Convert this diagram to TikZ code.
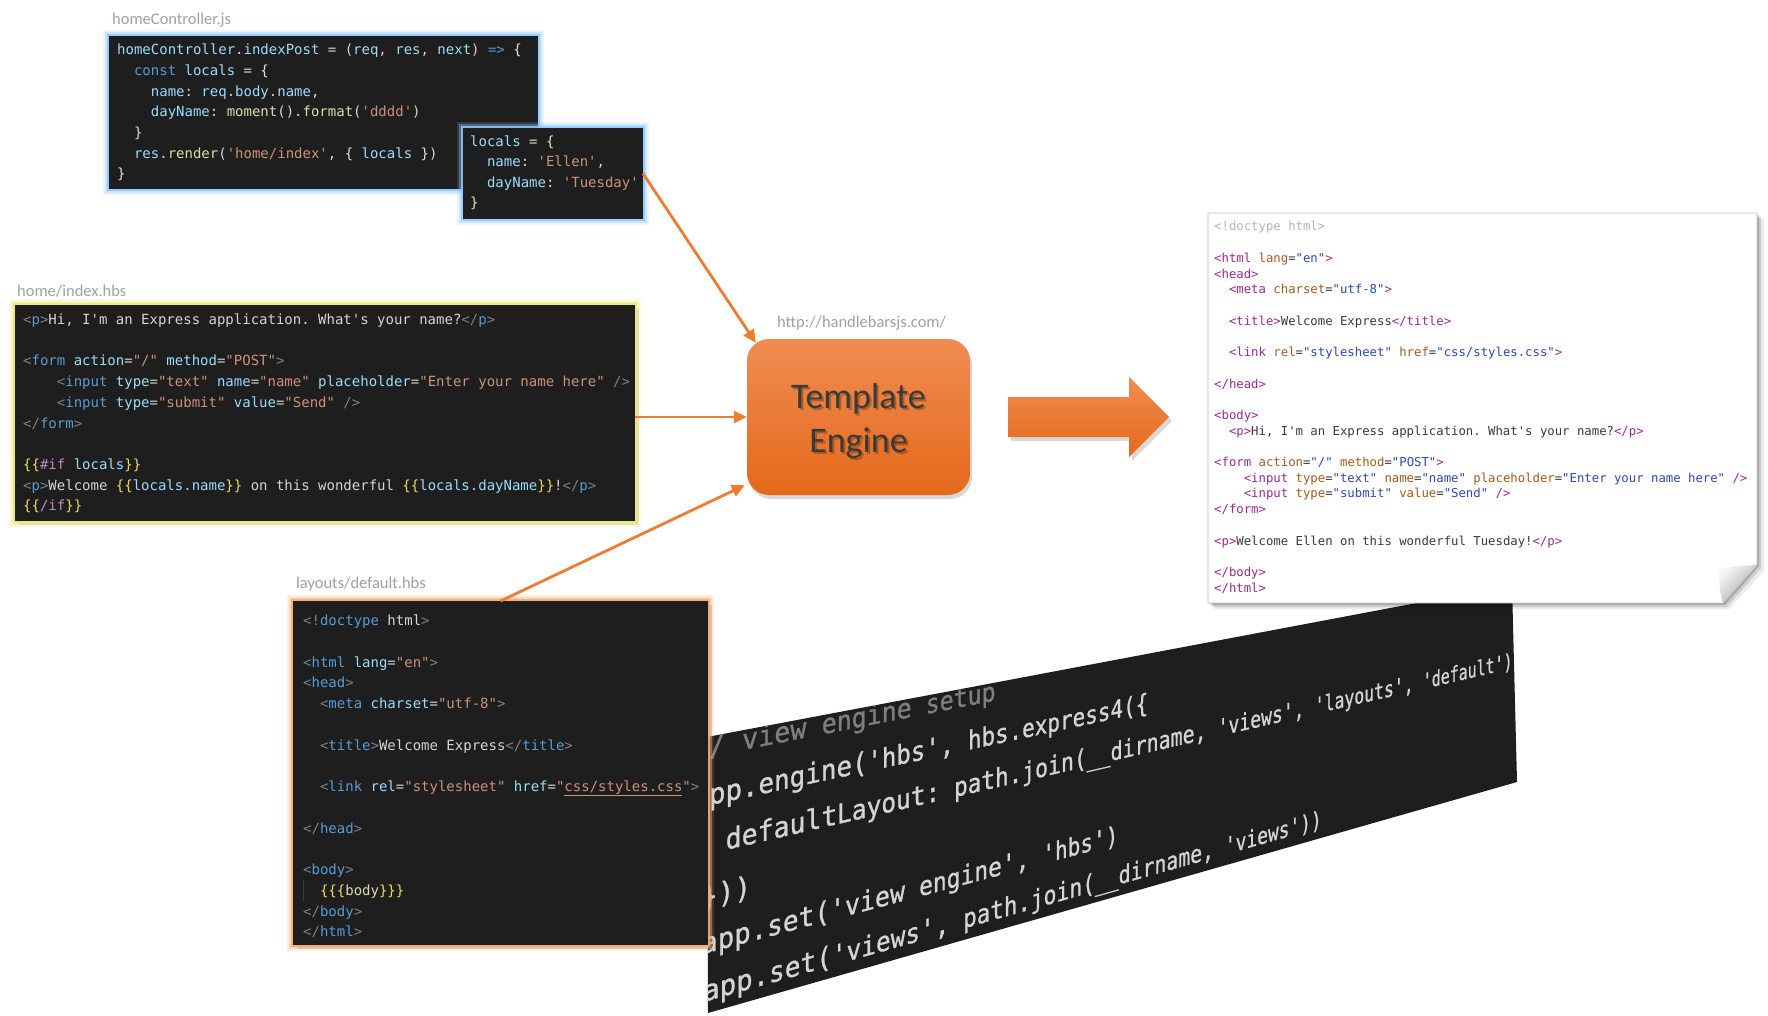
\documentclass[tikz,border=0pt]{standalone}
\usepackage{fontspec}
\setmonofont{DejaVu Sans Mono}
\newfontfamily\calfont{Carlito}
\newfontfamily\tiltfont{DejaVu Sans Mono}[FakeBold=1]
\usetikzlibrary{arrows.meta,shadows}
\definecolor{vsbg}{HTML}{1E1E1E}
\definecolor{vspun}{HTML}{808080}
\definecolor{vstag}{HTML}{569CD6}
\definecolor{vsatt}{HTML}{9CDCFE}
\definecolor{vsstr}{HTML}{CE9178}
\definecolor{vstxt}{HTML}{D4D4D4}
\definecolor{vsbrk}{HTML}{F2D95C}
\definecolor{vsbrw}{HTML}{E6E0C8}
\definecolor{vskey}{HTML}{569CD6}
\definecolor{vsfun}{HTML}{DCDCAA}
\definecolor{vshbs}{HTML}{C586C0}
\definecolor{otag}{HTML}{9A2A8E}
\definecolor{oatt}{HTML}{A8581C}
\definecolor{oval}{HTML}{2F48B5}
\definecolor{otxt}{HTML}{3A3A3A}
\definecolor{odoc}{HTML}{B4B4B4}
\definecolor{orangeA}{HTML}{ED7D31}
\definecolor{teTop}{HTML}{F08C52}
\definecolor{teBot}{HTML}{E4691B}
\definecolor{glowBlue}{HTML}{8EC8FF}
\definecolor{glowYel}{HTML}{EFE67A}
\definecolor{glowOra}{HTML}{F5A96E}
\definecolor{lblgray}{HTML}{A0A0A0}
\definecolor{tiltTxt}{HTML}{D4D4D4}
\definecolor{tiltCom}{HTML}{7E7E7E}
\definecolor{teText}{HTML}{3A3A3A}
\newcommand\cPun[1]{\textcolor{vspun}{#1}}
\newcommand\cTag[1]{\textcolor{vstag}{#1}}
\newcommand\cAtt[1]{\textcolor{vsatt}{#1}}
\newcommand\cStr[1]{\textcolor{vsstr}{#1}}
\newcommand\cBrk[1]{\textcolor{vsbrk}{#1}}
\newcommand\cBrw[1]{\textcolor{vsbrw}{#1}}
\newcommand\cKey[1]{\textcolor{vskey}{#1}}
\newcommand\cFun[1]{\textcolor{vsfun}{#1}}
\newcommand\cHbs[1]{\textcolor{vshbs}{#1}}
\newcommand\cVar[1]{\textcolor{vsatt}{#1}}
\newcommand\oTag[1]{\textcolor{otag}{#1}}
\newcommand\oAtt[1]{\textcolor{oatt}{#1}}
\newcommand\oVal[1]{\textcolor{oval}{#1}}
\newcommand\oDoc[1]{\textcolor{odoc}{#1}}
\newcounter{twc}
\newcommand\tw[6]{%
 \pgfmathsetmacro\twU{#2+#3*16.8}%
 \pgfmathsetmacro\twR{\twU/1127}%
 \pgfmathsetmacro\twW{1+0.4*\twR}%
 \pgfmathsetmacro\twX{707+\twU/\twW}%
 \pgfmathsetmacro\twY{(737+#1+81.6*\twR)/\twW}%
 \pgfmathsetmacro\twM{1+0.4*(\twU+#4*8.4)/1127}%
 \pgfmathsetmacro\twA{1/(\twM*\twM)}%
 \pgfmathsetmacro\twB{0.4*(533+#1)/1127/(\twM*\twM)}%
 \pgfmathsetmacro\twD{1.04/\twM}%
 \stepcounter{twc}%
 \begin{scope}[shift={(\twX,\twY)}]
 \node[tiltln,text=#5,cm={\twA,\twB,0,\twD,(0,0)}] (tw\arabic{twc}) at (0,0) {#6};
 \end{scope}}
\begin{document}
\frenchspacing
\begin{tikzpicture}[x=1pt,y=-1pt,
 codeln/.style={anchor=base west,inner sep=0,font=\ttfamily\fontsize{14}{16}\selectfont,text=vstxt},
 outln/.style={anchor=base west,inner sep=0,font=\ttfamily\fontsize{12.3}{14}\selectfont,text=otxt},
 tiltln/.style={anchor=base west,inner sep=0,transform shape,font=\tiltfont\fontsize{28}{30}\selectfont},
 lbl/.style={anchor=west,inner sep=0,font=\calfont\fontsize{16.5}{18}\selectfont,text=lblgray},
 codebox/.style={fill=vsbg,draw=none,inner sep=0,outer sep=0,anchor=north west},
 blueglow/.style={preaction={draw=glowBlue,line width=12pt,draw opacity=.18},
   preaction={draw=glowBlue,line width=8pt,draw opacity=.35},
   preaction={draw=glowBlue,line width=4pt,draw opacity=.85}},
 yelglow/.style={drop shadow={shadow xshift=4pt,shadow yshift=-4pt,opacity=.25},
   preaction={draw=glowYel,line width=12pt,draw opacity=.18},
   preaction={draw=glowYel,line width=8pt,draw opacity=.35},
   preaction={draw=glowYel,line width=4pt,draw opacity=.85}},
 oraglow/.style={drop shadow={shadow xshift=4pt,shadow yshift=-4pt,opacity=.3},
   preaction={draw=glowOra,line width=12pt,draw opacity=.18},
   preaction={draw=glowOra,line width=8pt,draw opacity=.35},
   preaction={draw=glowOra,line width=4pt,draw opacity=.85}},
 conn/.style={draw=orangeA,line width=2.8pt,-{Triangle[length=13pt,width=12pt]}}
]
\useasboundingbox (0,0) rectangle (1768,1016);
\fill[white] (0,0) rectangle (1768,1016);

% ---------- tilted code image ----------
\coordinate (q1) at (707,737);
\coordinate (q2) at (1512,585);
\coordinate (q3) at (1517,782);
\coordinate (q4) at (708,1013);
\fill[vsbg] (q1) -- (q2) -- (q3) -- (q4) -- cycle;
\begin{scope}
\clip (q1) -- (q2) -- (q3) -- (q4) -- cycle;
\tw{20}{-15}{1}{1}{tiltCom}{/}
\tw{20}{-15}{3}{4}{tiltCom}{view}
\tw{20}{-15}{8}{6}{tiltCom}{engine}
\tw{20}{-15}{15}{5}{tiltCom}{setup}
\tw{68.6}{-15}{1}{3}{tiltTxt}{pp.}
\tw{68.6}{-15}{4}{7}{tiltTxt}{engine(}
\tw{68.6}{-15}{11}{6}{tiltTxt}{'hbs',}
\tw{68.6}{-15}{18}{4}{tiltTxt}{hbs.}
\tw{68.6}{-15}{22}{10}{tiltTxt}{express4(\{}
\tw{117.2}{-15}{2}{7}{tiltTxt}{default}
\tw{117.2}{-15}{9}{7}{tiltTxt}{Layout:}
\tw{117.2}{-15}{17}{5}{tiltTxt}{path.}
\tw{117.2}{-15}{22}{5}{tiltTxt}{join(}
\tw{117.2}{-15}{27}{10}{tiltTxt}{\_\_dirname,}
\tw{117.2}{-15}{38}{8}{tiltTxt}{'views',}
\tw{117.2}{-15}{47}{10}{tiltTxt}{'layouts',}
\tw{117.2}{-15}{58}{10}{tiltTxt}{'default')}
\tw{170}{-6}{0}{3}{tiltTxt}{\}))}
\tw{216}{-6}{0}{4}{tiltTxt}{app.}
\tw{216}{-6}{4}{4}{tiltTxt}{set(}
\tw{216}{-6}{8}{5}{tiltTxt}{'view}
\tw{216}{-6}{14}{8}{tiltTxt}{engine',}
\tw{216}{-6}{23}{6}{tiltTxt}{'hbs')}
\tw{264}{-4}{0}{4}{tiltTxt}{app.}
\tw{264}{-4}{4}{4}{tiltTxt}{set(}
\tw{264}{-4}{8}{8}{tiltTxt}{'views',}
\tw{264}{-4}{17}{5}{tiltTxt}{path.}
\tw{264}{-4}{22}{5}{tiltTxt}{join(}
\tw{264}{-4}{27}{10}{tiltTxt}{\_\_dirname,}
\tw{264}{-4}{38}{9}{tiltTxt}{'views'))}
\end{scope}

% ---------- output page ----------
\fill[black,opacity=.08] (1214,219) -- (1764,219) -- (1764,571) -- (1729,609) -- (1214,609) -- cycle;
\fill[black,opacity=.12] (1212,217) -- (1761,217) -- (1761,568) -- (1727,607) -- (1212,607) -- cycle;
\fill[black,opacity=.18] (1210,215) -- (1759,215) -- (1759,566) -- (1725,605) -- (1210,605) -- cycle;
\coordinate (p1) at (1208,213);
\coordinate (p2) at (1757,213);
\coordinate (p3) at (1757,565);
\coordinate (p4) at (1723,603);
\coordinate (p5) at (1208,603);
\filldraw[fill=white,draw=gray!55,line width=0.8pt] (p1) -- (p2) -- (p3) -- (p4) -- (p5) -- cycle;
\shade[top color=gray!8,bottom color=gray!70,shading angle=45] (p3) .. controls (1742,566) and (1728,566) .. (1719,570) .. controls (1719,584) and (1720,594) .. (p4) -- cycle;
\node[outln] (o0) at (1214,231) {\oDoc{<!doctype html>}};
\node[outln] (o2) at (1214,262.4) {\oTag{<html} \oAtt{lang}=\oVal{"en"}\oTag{>}};
\node[outln] (o3) at (1214,278.1) {\oTag{<head>}};
\node[outln] (o4) at (1228.8,293.8) {\oTag{<meta} \oAtt{charset}=\oVal{"utf-8"}\oTag{>}};
\node[outln] (o6) at (1228.8,325.2) {\oTag{<title>}Welcome Express\oTag{</title>}};
\node[outln] (o8) at (1228.8,356.6) {\oTag{<link} \oAtt{rel}=\oVal{"stylesheet"} \oAtt{href}=\oVal{"css/styles.css"}\oTag{>}};
\node[outln] (o10) at (1214,388) {\oTag{</head>}};
\node[outln] (o12) at (1214,419.4) {\oTag{<body>}};
\node[outln] (o13) at (1228.8,435.1) {\oTag{<p>}Hi, I'm an Express application. What's your name?\oTag{</p>}};
\node[outln] (o15) at (1214,466.5) {\oTag{<form} \oAtt{action}=\oVal{"/"} \oAtt{method}=\oVal{"POST"}\oTag{>}};
\node[outln] (o16) at (1243.6,482.2) {\oTag{<input} \oAtt{type}=\oVal{"text"} \oAtt{name}=\oVal{"name"} \oAtt{placeholder}=\oVal{"Enter your name here"} \oTag{/>}};
\node[outln] (o17) at (1243.6,497.9) {\oTag{<input} \oAtt{type}=\oVal{"submit"} \oAtt{value}=\oVal{"Send"} \oTag{/>}};
\node[outln] (o18) at (1214,513.6) {\oTag{</form>}};
\node[outln] (o20) at (1214,545) {\oTag{<p>}Welcome Ellen on this wonderful Tuesday!\oTag{</p>}};
\node[outln] (o22) at (1214,576.4) {\oTag{</body>}};
\node[outln] (o23) at (1214,592.1) {\oTag{</html>}};

% ---------- homeController.js ----------
\node[lbl] (lblhc) at (112,20) {homeController.js};
\node[codebox,blueglow,minimum width=429pt,minimum height=153pt] (hc) at (109,36) {};
\node[codeln] (hc0) at (117,55) {\cVar{homeController}.\cVar{indexPost} = (\cVar{req}, \cVar{res}, \cVar{next}) \cKey{=>} \cBrw{\{}};
\node[codeln] (hc1) at (133.86,75.7) {\cKey{const} \cVar{locals} = \cBrw{\{}};
\node[codeln] (hc2) at (150.72,96.3) {\cVar{name}: \cVar{req}.\cVar{body}.\cVar{name},};
\node[codeln] (hc3) at (150.72,117) {\cVar{dayName}: \cFun{moment}().\cFun{format}(\cStr{'dddd'})};
\node[codeln] (hc4) at (133.86,137.7) {\cBrw{\}}};
\node[codeln] (hc5) at (133.86,158.3) {\cVar{res}.\cFun{render}(\cStr{'home/index'}, \cBrw{\{} \cVar{locals} \cBrw{\}})};
\node[codeln] (hc6) at (117,179) {\cBrw{\}}};

\node[codebox,blueglow,minimum width=180pt,minimum height=91pt] (locals) at (463,128) {};
\node[codeln] (lc0) at (470,146.5) {\cVar{locals} = \cBrw{\{}};
\node[codeln] (lc1) at (486.86,167) {\cVar{name}: \cStr{'Ellen'},};
\node[codeln] (lc2) at (486.86,187.5) {\cVar{dayName}: \cStr{'Tuesday'}};
\node[codeln] (lc3) at (470,208) {\cBrw{\}}};

% ---------- home/index.hbs ----------
\node[lbl] (lblix) at (17,291) {home/index.hbs};
\node[codebox,yelglow,minimum width=620pt,minimum height=216pt] (index) at (15,305) {};
\node[codeln] (ix0) at (23,324.5) {\cPun{<}\cTag{p}\cPun{>}Hi, I'm an Express application. What's your name?\cPun{</}\cTag{p}\cPun{>}};
\node[codeln] (ix2) at (23,365.9) {\cPun{<}\cTag{form} \cAtt{action}=\cStr{"/"} \cAtt{method}=\cStr{"POST"}\cPun{>}};
\node[codeln] (ix3) at (56.72,386.6) {\cPun{<}\cTag{input} \cAtt{type}=\cStr{"text"} \cAtt{name}=\cStr{"name"} \cAtt{placeholder}=\cStr{"Enter your name here"} \cPun{/>}};
\node[codeln] (ix4) at (56.72,407.3) {\cPun{<}\cTag{input} \cAtt{type}=\cStr{"submit"} \cAtt{value}=\cStr{"Send"} \cPun{/>}};
\node[codeln] (ix5) at (23,428) {\cPun{</}\cTag{form}\cPun{>}};
\node[codeln] (ix7) at (23,469.4) {\cBrk{\{\{}\cHbs{\#if} \cVar{locals}\cBrk{\}\}}};
\node[codeln] (ix8) at (23,490.1) {\cPun{<}\cTag{p}\cPun{>}Welcome \cBrk{\{\{}\cVar{locals.name}\cBrk{\}\}} on this wonderful \cBrk{\{\{}\cVar{locals.dayName}\cBrk{\}\}}!\cPun{</}\cTag{p}\cPun{>}};
\node[codeln] (ix9) at (23,510.8) {\cBrk{\{\{}\cHbs{/if}\cBrk{\}\}}};

% ---------- layouts/default.hbs ----------
\node[lbl] (lblly) at (296,584) {layouts/default.hbs};
\node[codebox,oraglow,minimum width=415pt,minimum height=344pt] (layout) at (293,601) {};
\node[codeln] (ly0) at (303,625.5) {\cPun{<!}\cTag{doctype} html\cPun{>}};
\node[codeln] (ly2) at (303,667) {\cPun{<}\cTag{html} \cAtt{lang}=\cStr{"en"}\cPun{>}};
\node[codeln] (ly3) at (303,687.75) {\cPun{<}\cTag{head}\cPun{>}};
\node[codeln] (ly4) at (319.86,708.5) {\cPun{<}\cTag{meta} \cAtt{charset}=\cStr{"utf-8"}\cPun{>}};
\node[codeln] (ly6) at (319.86,750) {\cPun{<}\cTag{title}\cPun{>}Welcome Express\cPun{</}\cTag{title}\cPun{>}};
\node[codeln] (ly8) at (319.86,791.5) {\cPun{<}\cTag{link} \cAtt{rel}=\cStr{"stylesheet"} \cAtt{href}=\cStr{"css/styles.css"}\cPun{>}};
\draw[vsstr,line width=1pt] (564.3,795) -- (682.3,795);
\node[codeln] (ly10) at (303,833) {\cPun{</}\cTag{head}\cPun{>}};
\node[codeln] (ly12) at (303,874.5) {\cPun{<}\cTag{body}\cPun{>}};
\draw[gray!45!black,line width=0.8pt] (303,880) -- (303,901);
\node[codeln] (ly13) at (319.86,895.25) {\cBrk{\{\{\{}\cFun{body}\cBrk{\}\}\}}};
\node[codeln] (ly14) at (303,916) {\cPun{</}\cTag{body}\cPun{>}};
\node[codeln] (ly15) at (303,936.75) {\cPun{</}\cTag{html}\cPun{>}};

% ---------- template engine ----------
\node[lbl] (lblhb) at (777,323) {http://handlebarsjs.com/};
\node[shade,top color=teTop,bottom color=teBot,rounded corners=22pt,minimum width=223pt,minimum height=156pt,inner sep=0,
  drop shadow={shadow xshift=2pt,shadow yshift=-4pt,opacity=.3}] (te) at (858.5,417) {};
\node[align=center,inner sep=0,font=\calfont\fontsize{36}{44}\selectfont,text=black,opacity=.25] (tes) at (860.5,423) {Template\\Engine};
\node[align=center,inner sep=0,font=\calfont\fontsize{36}{44}\selectfont,text=teText] (tet) at (858.5,421) {Template\\Engine};

% big arrow
\fill[black,opacity=.15] (1011,401) -- (1132,401) -- (1132,381) -- (1172,421) -- (1132,461) -- (1132,441) -- (1011,441) -- cycle;
\shade[top color=teTop,bottom color=teBot] (1008,397) -- (1129,397) -- (1129,377) -- (1169,417) -- (1129,457) -- (1129,437) -- (1008,437) -- cycle;

% connectors
\draw[conn] (locals.east) -- ([shift={(9,4)}]te.north west);
\draw[conn] (index.east |- te.west) -- (te.west);
\draw[conn] (layout.north) -- ([shift={(-2,-10)}]te.south west);
\end{tikzpicture}
\end{document}
